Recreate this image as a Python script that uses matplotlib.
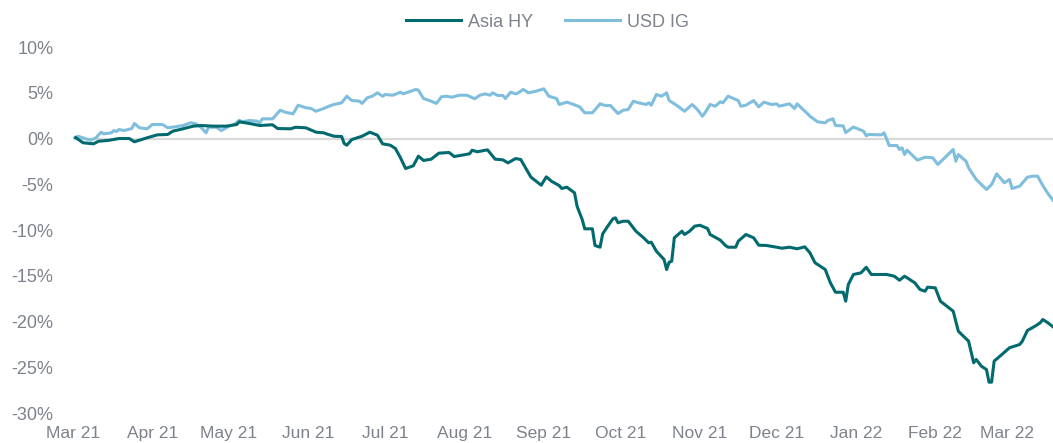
import matplotlib
matplotlib.use("Agg")
import matplotlib.pyplot as plt
import matplotlib.dates as mdates
import pandas as pd

plt.rcParams['font.family'] = ['Liberation Sans', 'DejaVu Sans']

# days since 1 Mar 2021, cumulative return in %
hy_days = [1, 4, 8, 10, 14, 18, 22, 24, 29, 33, 37, 39, 43, 47, 50, 55, 60, 64, 65, 69,
           73, 78, 80, 85, 87, 91, 95, 98, 99, 102, 105, 106, 107, 109, 113, 116, 119, 121,
           124, 126, 128, 130, 133, 135, 137, 140, 143, 147, 149, 152, 155, 156, 158, 162,
           165, 168, 170, 173, 175, 179, 183, 185, 187, 190, 191, 193, 196, 197, 199, 200,
           203, 204, 206, 207, 209, 211, 212, 213, 215, 217, 218, 220, 223, 225, 226, 228,
           231, 232, 233, 234, 235, 238, 239, 241, 243, 245, 248, 249, 253, 255, 256, 259,
           260, 263, 266, 268, 271, 275, 277, 280, 283, 286, 288, 290, 292, 294, 296, 298,
           301, 302, 303, 305, 308, 310, 312, 318, 321, 323, 325, 329, 331, 333, 334, 337,
           339, 344, 346, 350, 352, 353, 355, 357, 358, 359, 360, 363, 366, 370, 371, 373,
           376, 378, 379, 381, 383]
hy_vals = [0.1, -0.47, -0.58, -0.3, -0.2, 0.0, 0.0, -0.36, 0.08, 0.4, 0.44, 0.8, 1.06, 1.35,
           1.42, 1.35, 1.35, 1.53, 1.82, 1.64, 1.42, 1.5, 1.09, 1.06, 1.23, 1.17, 0.69, 0.62,
           0.51, 0.25, 0.22, -0.55, -0.73, -0.11, 0.25, 0.69, 0.36, -0.58, -0.73, -1.09,
           -2.11, -3.28, -2.98, -1.93, -2.4, -2.26, -1.6, -1.53, -1.97, -1.82, -1.67, -1.28,
           -1.45, -1.24, -2.26, -2.33, -2.66, -2.19, -2.3, -4.23, -5.1, -4.19, -4.67, -5.14,
           -5.46, -5.32, -5.93, -7.4, -8.85, -9.87, -9.87, -11.69, -11.88, -10.42, -9.58,
           -8.78, -8.67, -9.21, -9.04, -9.04, -9.4, -10.13, -10.85, -11.4, -11.33, -12.32,
           -13.22, -14.32, -13.52, -13.41, -10.85, -10.13, -10.49, -10.13, -9.58, -9.48,
           -9.84, -10.49, -11.11, -11.69, -11.88, -11.88, -11.22, -10.49, -10.85, -11.66,
           -11.69, -11.88, -11.99, -11.88, -12.05, -11.84, -12.49, -13.58, -13.95, -14.32,
           -15.77, -16.8, -16.8, -17.78, -15.96, -14.86, -14.68, -14.07, -14.86, -14.86,
           -15.05, -15.49, -15.05, -15.77, -16.5, -16.69, -16.25, -16.32, -17.78, -18.87,
           -21.06, -22.15, -24.51, -24.15, -24.88, -25.25, -26.63, -26.63, -24.33, -23.61,
           -22.87, -22.51, -22.15, -20.98, -20.51, -20.14, -19.78, -20.14, -20.58]

ig_days = [1, 2, 5, 7, 9, 11, 12, 15, 16, 17, 18, 20, 23, 24, 26, 29, 31, 35, 37, 40, 43,
           46, 48, 50, 52, 53, 56, 58, 61, 63, 65, 66, 69, 72, 73, 74, 78, 81, 83, 86, 88,
           91, 93, 95, 98, 100, 102, 105, 107, 109, 112, 113, 115, 117, 119, 121, 122, 125,
           128, 129, 132, 134, 135, 137, 140, 142, 144, 146, 148, 151, 154, 157, 159, 161,
           163, 164, 166, 168, 169, 171, 173, 174, 176, 178, 181, 184, 186, 189, 190, 193,
           195, 198, 200, 203, 206, 208, 210, 213, 215, 217, 219, 221, 224, 225, 226, 228,
           230, 232, 233, 236, 239, 242, 244, 246, 247, 249, 251, 253, 254, 256, 260, 261,
           263, 266, 268, 270, 273, 275, 276, 280, 282, 283, 287, 288, 291, 294, 295, 297,
           298, 301, 302, 305, 309, 310, 311, 316, 317, 319, 322, 323, 324, 325, 326, 330,
           333, 336, 338, 344, 345, 346, 349, 350, 353, 357, 359, 361, 364, 366, 367, 370,
           373, 375, 377, 379, 381, 383]
ig_vals = [0.08, 0.25, -0.03, -0.18, 0.08, 0.69, 0.51, 0.62, 0.87, 0.77, 0.98, 0.87, 1.09,
           1.64, 1.17, 1.06, 1.53, 1.53, 1.17, 1.28, 1.42, 1.72, 1.61, 1.23, 0.62, 1.23,
           1.23, 0.87, 1.35, 1.53, 2.0, 1.82, 1.97, 1.89, 1.72, 2.15, 2.15, 3.09, 2.87, 2.7,
           3.64, 3.36, 3.28, 2.98, 3.28, 3.53, 3.72, 3.9, 4.62, 4.15, 4.08, 3.83, 4.45, 4.62,
           4.99, 4.62, 4.81, 4.73, 5.06, 4.88, 5.17, 5.36, 5.28, 4.37, 4.08, 3.83, 4.56,
           4.62, 4.51, 4.73, 4.73, 4.34, 4.73, 4.88, 4.73, 4.99, 4.7, 4.7, 4.37, 5.06, 4.88,
           4.99, 5.36, 4.99, 5.17, 5.43, 4.62, 4.37, 3.72, 3.97, 3.79, 3.46, 2.81, 2.81,
           3.79, 3.61, 3.61, 2.73, 3.09, 3.17, 4.08, 3.9, 3.72, 3.9, 3.64, 4.81, 4.62, 4.99,
           4.15, 3.61, 2.98, 3.72, 3.17, 2.44, 2.81, 3.72, 3.53, 4.01, 3.9, 4.62, 4.15, 3.53,
           3.64, 4.15, 3.46, 3.97, 3.72, 3.79, 3.53, 3.79, 3.28, 3.79, 2.73, 2.44, 1.82,
           1.72, 1.97, 2.15, 1.42, 1.38, 0.65, 1.25, 0.8, 0.3, 0.44, 0.4, 0.62, -0.77, -0.77,
           -1.2, -1.02, -1.75, -1.28, -2.37, -2.04, -2.11, -2.84, -1.2, -2.48, -1.75, -2.48,
           -3.2, -4.48, -5.57, -5.03, -3.86, -4.84, -4.48, -5.46, -5.21, -4.23, -4.12, -4.12,
           -5.14, -6.01, -6.74]

y_ticks = [10, 5, 0, -5, -10, -15, -20, -25, -30]
start = pd.Timestamp('2021-03-01')
hy_dates = start + pd.to_timedelta(hy_days, unit='D')
ig_dates = start + pd.to_timedelta(ig_days, unit='D')

teal = '#006a6e'
light = '#7fbedc'
grey = '#7d828b'

fig = plt.figure(figsize=(10.53, 4.43), dpi=100)
ax = fig.add_axes([0.0693, 0.0677, 0.9307, 0.8262])

ax.axhline(0, color='#d9d9d9', lw=1.6, zorder=1)
ax.plot(hy_dates, hy_vals, color=teal, lw=2.2, label='Asia HY', zorder=3)
ax.plot(ig_dates, ig_vals, color=light, lw=2.2, label='USD IG', zorder=2)

ax.set_xlim(start, start + pd.Timedelta(days=383))
ax.set_ylim(-30, 10)
ax.set_yticks(y_ticks)
ax.set_yticklabels([f'{v}%' for v in y_ticks])
ax.xaxis.set_major_locator(mdates.MonthLocator())
ax.xaxis.set_major_formatter(mdates.DateFormatter('%b %y'))

for s in ax.spines.values():
    s.set_visible(False)
ax.tick_params(axis='both', length=0, colors=grey)
ax.tick_params(axis='y', pad=14, labelsize=13)
ax.tick_params(axis='x', pad=9, labelsize=12.5)

fig.legend(loc='center', bbox_to_anchor=(0.52, 0.95), ncol=2, frameon=False,
           handlelength=3.0, columnspacing=1.8, handletextpad=0.4,
           fontsize=13, labelcolor=grey)

fig.savefig('out.png', dpi=100)
